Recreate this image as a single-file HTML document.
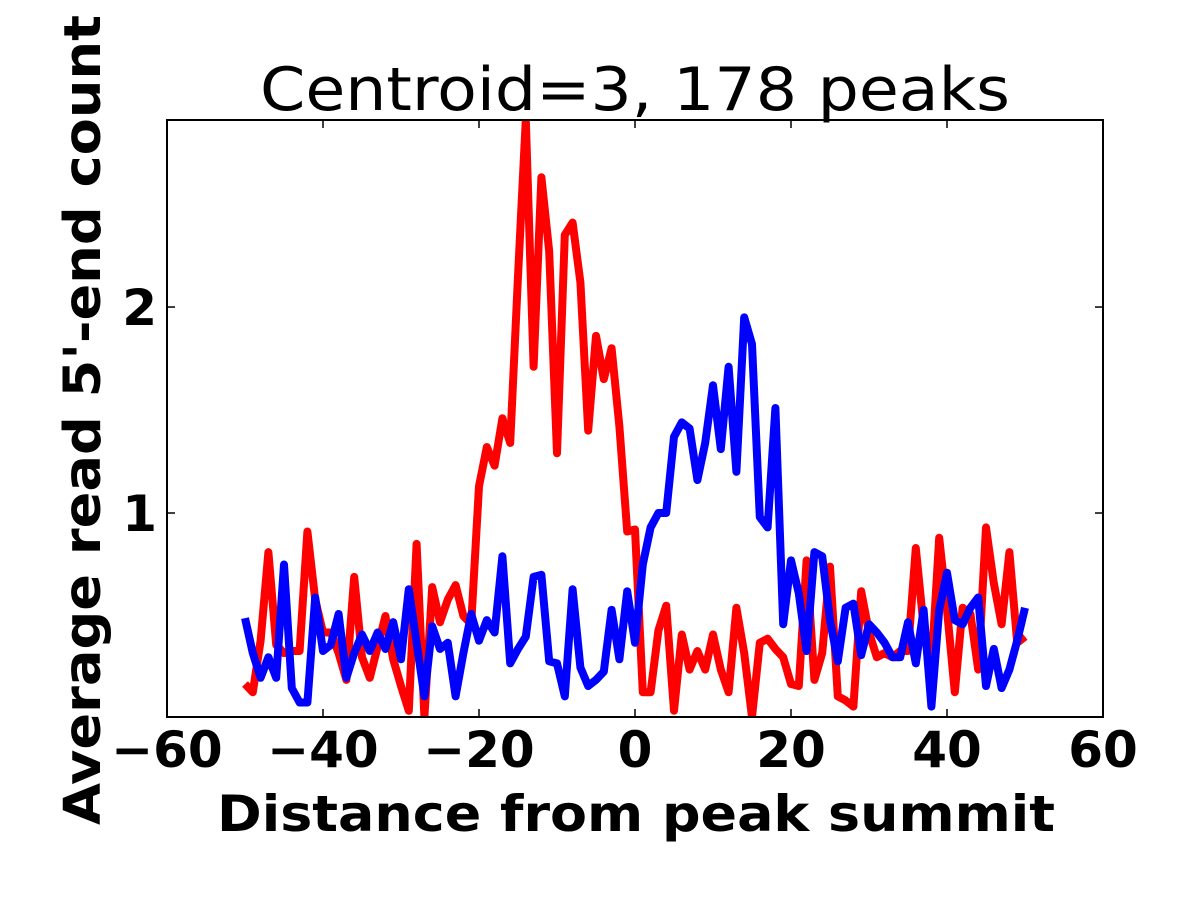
<!DOCTYPE html>
<html><head><meta charset="utf-8"><style>
html,body{margin:0;padding:0;background:#fff;}
svg{display:block;font-family:"DejaVu Sans","Liberation Sans",sans-serif;}
</style></head><body>
<svg id="chart" width="1200" height="900">
<rect width="1200" height="900" fill="#fff"/>
<defs><clipPath id="pc"><rect x="167" y="120" width="936" height="597"/></clipPath></defs>
<text x="635" y="110" font-size="60" text-anchor="middle" textLength="750" lengthAdjust="spacingAndGlyphs">Centroid=3, 178 peaks</text>
<g id="lines" clip-path="url(#pc)"></g>
<g id="axes"></g>
<text x="636" y="831" font-size="50" font-weight="bold" text-anchor="middle" textLength="838" lengthAdjust="spacingAndGlyphs">Distance from peak summit</text>
<text transform="translate(100,420) rotate(-90)" font-size="51" font-weight="bold" text-anchor="middle" textLength="810" lengthAdjust="spacingAndGlyphs">Average read 5'-end count</text>
</svg>
<script>
const xValues = [];
for (let i = -50; i <= 50; i++) xValues.push(i);
const redValues = [0.17,0.13,0.38,0.81,0.36,0.32,0.33,0.33,0.91,0.58,0.42,0.42,0.32,0.19,0.69,0.30,0.20,0.35,0.50,0.29,0.16,0.04,0.85,0.01,0.64,0.47,0.58,0.65,0.50,0.46,
1.13,1.32,1.23,1.46,1.34,2.15,2.91,1.71,2.63,2.27,1.29,2.35,2.41,2.12,1.40,1.86,1.65,1.80,1.42,0.91,0.92,
0.13,0.13,0.43,0.55,0.04,0.41,0.24,0.33,0.24,0.41,0.24,0.13,0.54,0.32,0.01,0.37,0.39,0.34,0.30,0.17,0.16,0.77,0.19,0.32,0.74,
0.11,0.09,0.06,0.62,0.42,0.30,0.32,0.30,0.33,0.33,0.83,0.45,0.25,0.88,0.53,0.13,0.54,0.51,0.24,0.93,0.66,0.46,0.81,0.37,0.40];
const blueValues = [0.49,0.32,0.20,0.30,0.20,0.75,0.15,0.08,0.08,0.59,0.33,0.36,0.51,0.20,0.32,0.41,0.33,0.42,0.34,0.47,0.29,0.63,0.37,0.11,0.45,0.34,0.37,0.11,0.32,0.51,
0.38,0.48,0.42,0.79,0.27,0.34,0.40,0.69,0.70,0.28,0.27,0.11,0.63,0.25,0.16,0.19,0.23,0.53,0.29,0.62,0.37,
0.75,0.93,1.00,1.00,1.37,1.44,1.41,1.16,1.34,1.62,1.31,1.71,1.20,1.95,1.82,0.98,0.93,1.51,0.46,0.77,0.61,0.33,0.81,0.79,0.48,
0.28,0.54,0.56,0.31,0.46,0.42,0.37,0.30,0.30,0.47,0.27,0.53,0.06,0.53,0.71,0.48,0.46,0.54,0.59,0.16,0.34,0.15,0.24,0.38,0.54];
const xTicks = [-60,-40,-20,0,20,40,60];
const yTicks = [1,2];

const NS = "http://www.w3.org/2000/svg";
const X0=167, X1=1103, Y0=717, Y1=120, XMIN=-60, XMAX=60, YMIN=0.0097, YMAX=2.908;
function sx(v){return X0+(v-XMIN)/(XMAX-XMIN)*(X1-X0);}
function sy(v){return Y0-(v-YMIN)/(YMAX-YMIN)*(Y0-Y1);}
function mk(tag, attrs, parent){const e=document.createElementNS(NS,tag);for(const k in attrs)e.setAttribute(k,attrs[k]);parent.appendChild(e);return e;}

const lines=document.getElementById('lines');
function drawSeries(vals,color,name){
  const d=vals.map((v,i)=>(i?'L':'M')+sx(xValues[i]).toFixed(2)+','+sy(v).toFixed(2)).join(' ');
  const p=mk('path',{d:d,fill:'none',stroke:color,'stroke-width':8,'stroke-linejoin':'round'},lines);
  
  
}
drawSeries(redValues,'#ff0000','red-series-line');
drawSeries(blueValues,'#0000ff','blue-series-line');

const axes=document.getElementById('axes');
const frame=mk('rect',{x:X0,y:Y1,width:X1-X0,height:Y0-Y1,fill:'none',stroke:'#000','stroke-width':2},axes);


xTicks.forEach(t=>{
  const x=sx(t);
  const a=mk('line',{x1:x,x2:x,y1:Y0,y2:Y0-8,stroke:'#000','stroke-width':1.5},axes);
  
  
  const b=mk('line',{x1:x,x2:x,y1:Y1,y2:Y1+8,stroke:'#000','stroke-width':1.5},axes);
  
  
  const lbl=mk('text',{x:x,y:767,'font-size':50,'font-weight':'bold','text-anchor':'middle'},axes);
  lbl.textContent=(t<0?'\u2212':'')+Math.abs(t);
  
  
});
yTicks.forEach(t=>{
  const y=sy(t);
  const a=mk('line',{x1:X0,x2:X0+8,y1:y,y2:y,stroke:'#000','stroke-width':1.5},axes);
  
  
  const b=mk('line',{x1:X1,x2:X1-8,y1:y,y2:y,stroke:'#000','stroke-width':1.5},axes);
  
  
  const lbl=mk('text',{x:157,y:y+18,'font-size':50,'font-weight':'bold','text-anchor':'end'},axes);
  lbl.textContent=String(t);
  
  
});
</script>
</body></html>
